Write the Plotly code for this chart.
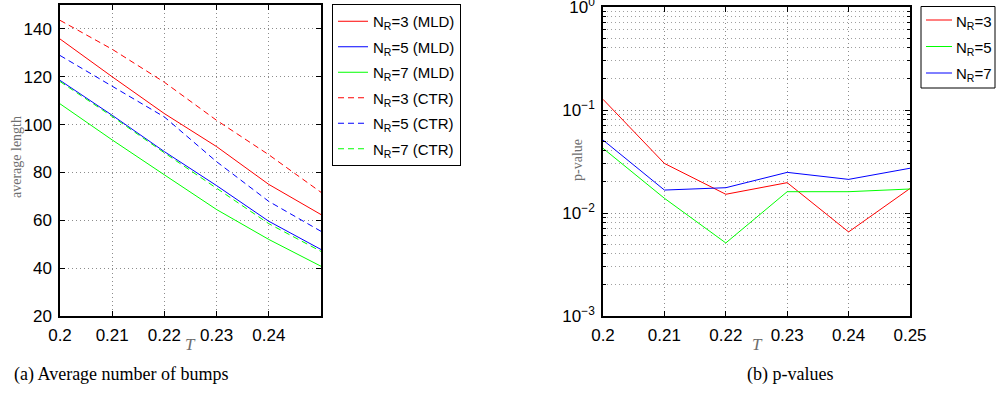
import plotly.graph_objects as go

W, H = 997, 406

# ---------------- data ----------------
T = [0.20, 0.21, 0.22, 0.23, 0.24, 0.25]

# (a) average length
mld_nr3 = [135.8, 120.0, 104.6, 90.8, 75.0, 62.4]
mld_nr5 = [118.5, 103.9, 88.7, 74.5, 59.6, 47.8]
mld_nr7 = [108.7, 93.6, 79.0, 64.5, 52.0, 40.8]
ctr_nr3 = [143.6, 131.5, 117.7, 101.8, 87.4, 71.7]
ctr_nr5 = [128.9, 116.2, 103.2, 84.5, 67.9, 55.4]
ctr_nr7 = [118.0, 103.4, 88.2, 73.4, 58.6, 47.0]

# (b) p-values
p_nr3 = [0.127, 0.0303, 0.0152, 0.0197, 0.00655, 0.0173]
p_nr5 = [0.0425, 0.0139, 0.00512, 0.0161, 0.0161, 0.0171]
p_nr7 = [0.0511, 0.0167, 0.0176, 0.0248, 0.0212, 0.0272]

left_xticks = [0.2, 0.21, 0.22, 0.23, 0.24]
left_xtext = ["0.2", "0.21", "0.22", "0.23", "0.24"]
left_yticks = [20, 40, 60, 80, 100, 120, 140]
right_xticks = [0.2, 0.21, 0.22, 0.23, 0.24, 0.25]
right_xtext = ["0.2", "0.21", "0.22", "0.23", "0.24", "0.25"]
right_yticks = [1e-3, 1e-2, 1e-1, 1]
right_ytext = ["10<sup>−3</sup>", "10<sup>−2</sup>", "10<sup>−1</sup>", "10<sup>0</sup>"]
minor_vals = [k * 10.0 ** e for e in (-3, -2, -1) for k in range(2, 10)]

RED, BLUE, GREEN = "#ff0000", "#0000ff", "#00ff00"
DASH = "6px,4px"


def px(x):
    return x / W


def py(y):
    return 1 - y / H


fig = go.Figure()

left = [
    (mld_nr3, RED, "solid", "N<sub>R</sub>=3 (MLD)"),
    (mld_nr5, BLUE, "solid", "N<sub>R</sub>=5 (MLD)"),
    (mld_nr7, GREEN, "solid", "N<sub>R</sub>=7 (MLD)"),
    (ctr_nr3, RED, DASH, "N<sub>R</sub>=3 (CTR)"),
    (ctr_nr5, BLUE, DASH, "N<sub>R</sub>=5 (CTR)"),
    (ctr_nr7, GREEN, DASH, "N<sub>R</sub>=7 (CTR)"),
]
for i, (vals, col, dash, name) in enumerate(left):
    fig.add_trace(go.Scatter(x=T, y=vals, mode="lines", name=name,
                             line=dict(color=col, width=1, dash=dash),
                             legendgroup=f"a{i}",
                             xaxis="x", yaxis="y", legend="legend"))

right = [
    (p_nr3, RED, "N<sub>R</sub>=3"),
    (p_nr5, GREEN, "N<sub>R</sub>=5"),
    (p_nr7, BLUE, "N<sub>R</sub>=7"),
]
for i, (vals, col, name) in enumerate(right):
    fig.add_trace(go.Scatter(x=T, y=vals, mode="lines", name=name,
                             line=dict(color=col, width=1),
                             showlegend=False,
                             xaxis="x2", yaxis="y2"))

TICKFONT = dict(family="Liberation Sans, Arial, sans-serif", size=17, color="black")
GRID = dict(showgrid=True, gridcolor="#8c8c8c", griddash="1px,3px", gridwidth=1)
AX = dict(showline=True, linecolor="black", linewidth=1.5, mirror="ticks",
          ticks="inside", ticklen=5, tickcolor="black", tickfont=TICKFONT,
          ticklabelstandoff=3, ticklabeloverflow="allow", automargin=False,
          zeroline=False, **GRID)

LEGFONT = dict(family="Liberation Sans, Arial, sans-serif", size=15, color="black")

fig.update_layout(
    width=W, height=H,
    margin=dict(l=0, r=0, t=0, b=0, autoexpand=False),
    paper_bgcolor="white", plot_bgcolor="white",
    xaxis=dict(domain=[px(60), px(321)], range=[0.2, 0.25],
               tickmode="array", tickvals=left_xticks, ticktext=left_xtext,
               anchor="y", **AX),
    yaxis=dict(domain=[py(316), py(5)], range=[20, 150],
               tickmode="array", tickvals=left_yticks,
               anchor="x", **AX),
    xaxis2=dict(domain=[px(603), px(910)], range=[0.2, 0.25],
                tickmode="array", tickvals=right_xticks, ticktext=right_xtext,
                anchor="y2", **AX),
    yaxis2=dict(domain=[py(316), py(7)], type="log", range=[-3, 0],
                tickmode="array", tickvals=right_yticks, ticktext=right_ytext,
                anchor="x2",
                minor=dict(tickmode="array", tickvals=minor_vals, ticks="inside",
                           ticklen=3, tickcolor="black", showgrid=True,
                           gridcolor="#a0a0a0", griddash="1px,3px", gridwidth=1),
                **AX),
    legend=dict(x=px(332), y=py(4), xanchor="left", yanchor="top",
                bordercolor="black", borderwidth=1, bgcolor="white",
                font=LEGFONT, itemwidth=30, tracegroupgap=3),
    showlegend=True,
)

# legend box for panel (b), built from the same series names/colours
fig.add_shape(type="rect", xref="paper", yref="paper",
              x0=px(921), x1=px(995), y0=py(88), y1=py(6.5),
              line=dict(color="black", width=1), fillcolor="white", layer="above")
for i, (vals, col, name) in enumerate(right):
    yrow = 20 + 26.5 * i
    fig.add_shape(type="line", xref="paper", yref="paper",
                  x0=px(926), x1=px(952), y0=py(yrow), y1=py(yrow),
                  line=dict(color=col, width=1), layer="above")
    fig.add_annotation(xref="paper", yref="paper", x=px(954), y=py(yrow + 2),
                       text=name, showarrow=False, xanchor="left", yanchor="middle",
                       font=LEGFONT)

SERIF = "Liberation Serif, Times New Roman, serif"
ann = [
    dict(x=px(16), y=py(157), text="average length", textangle=-90,
         font=dict(family=SERIF, size=14, color="#6e6e6e")),
    dict(x=px(578), y=py(160), text="p-value", textangle=-90,
         font=dict(family=SERIF, size=14, color="#6e6e6e")),
    dict(x=px(190), y=py(344), text="<i>T</i>",
         font=dict(family=SERIF, size=17, color="#6e6e6e")),
    dict(x=px(757), y=py(344), text="<i>T</i>",
         font=dict(family=SERIF, size=17, color="#6e6e6e")),
    dict(x=px(121), y=py(374), text="(a) Average number of bumps",
         font=dict(family=SERIF, size=18, color="black")),
    dict(x=px(790), y=py(374), text="(b) p-values",
         font=dict(family=SERIF, size=18, color="black")),
]
for a in ann:
    fig.add_annotation(xref="paper", yref="paper", showarrow=False,
                       xanchor="center", yanchor="middle", **a)

fig.write_html("out.html")
